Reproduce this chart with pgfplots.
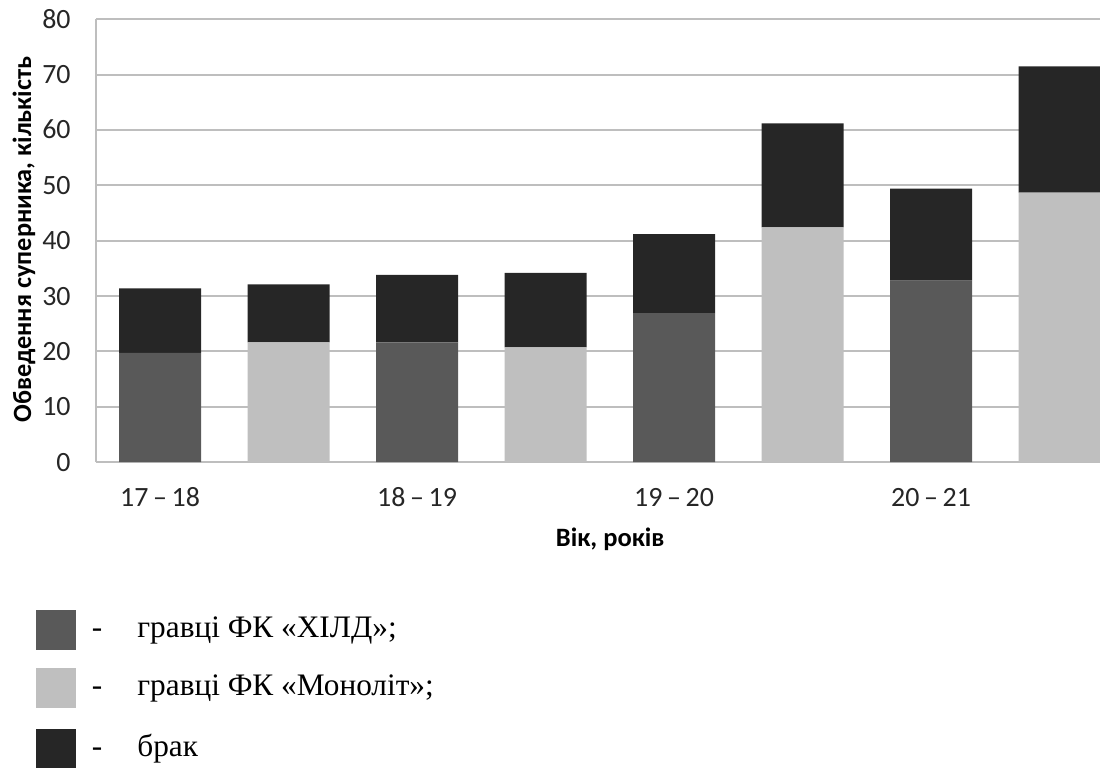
\documentclass[border=0pt]{standalone}
\usepackage{fontspec}
\setmainfont{Liberation Serif}
\newfontfamily\calibri{Carlito}
\usepackage{pgfplots}
\pgfplotsset{compat=1.18}

\definecolor{hild}{HTML}{595959}
\definecolor{mono}{HTML}{BFBFBF}
\definecolor{brak}{HTML}{262626}
\definecolor{gridc}{HTML}{BEBEBE}

\begin{document}
\begin{tikzpicture}
  \path[use as bounding box] (0,0) rectangle (550bp,-385.5bp);
  \begin{axis}[
    at={(48.15bp,-231bp)}, anchor=south west,
    scale only axis,
    width=501.85bp, height=221.35bp,
    ybar stacked, bar width=41bp,
    xmin=-0.496, xmax=7.315,
    ymin=0, ymax=80,
    ytick={0,10,...,80},
    xtick={0,2,4,6},
    xticklabels={17\,–\,18, 18\,–\,19, 19\,–\,20, 20\,–\,21},
    axis lines*=left,
    axis line style={-, draw=gridc, line width=1bp},
    ymajorgrids,
    grid style={draw=gridc, line width=1bp},
    major tick length=0pt,
    tick label style={font=\calibri\fontsize{14}{16}\selectfont, text=black!85, inner sep=0pt},
    /pgf/number format/assume math mode=true,
    yticklabel style={anchor=base east, xshift=-12.65bp, yshift=-4.5bp},
    xticklabel style={anchor=base, yshift=-22bp},
    xlabel={Вік, років},
    ylabel={Обведення суперника, кількість},
    label style={font=\calibri\bfseries, text=black, inner sep=0pt},
    xlabel style={font=\calibri\bfseries\fontsize{13.3}{15}\selectfont,
      at={(axis description cs:0.512,-0.174)}, anchor=center},
    ylabel style={font=\calibri\bfseries\fontsize{13.2}{15}\selectfont,
      at={(axis description cs:-0.0721,0.503)}, anchor=center},
  ]
  % гравці ФК «ХІЛД»
  \addplot[fill=hild, draw=none] coordinates {
    (0,19.7) (1,0) (2,21.6) (3,0) (4,26.9) (5,0) (6,32.8) (7,0)
  };
  % гравці ФК «Моноліт»
  \addplot[fill=mono, draw=none] coordinates {
    (0,0) (1,21.6) (2,0) (3,20.7) (4,0) (5,42.4) (6,0) (7,48.7)
  };
  % брак
  \addplot[fill=brak, draw=none] coordinates {
    (0,11.7) (1,10.5) (2,12.2) (3,13.5) (4,14.3) (5,18.8) (6,16.6) (7,22.8)
  };
  \end{axis}

  % legend below the chart
  \fill[hild] (18bp,-305bp) rectangle (38bp,-325bp);
  \fill[mono] (18bp,-334bp) rectangle (38bp,-354bp);
  \fill[brak] (18bp,-364.5bp) rectangle (38bp,-384bp);
  \begin{scope}[every node/.style={font=\fontsize{15.7}{19}\selectfont, inner sep=0pt}]
    \node[anchor=base] at (48.5bp,-318.75bp) {-};
    \node[anchor=base] at (48.5bp,-347.75bp) {-};
    \node[anchor=base] at (48.5bp,-378bp) {-};
    \node[anchor=base west] at (68.5bp,-318.75bp) {гравці ФК «ХІЛД»;};
    \node[anchor=base west] at (68.5bp,-347.75bp) {гравці ФК «Моноліт»;};
    \node[anchor=base west] at (68.5bp,-378bp) {брак};
  \end{scope}
\end{tikzpicture}
\end{document}
